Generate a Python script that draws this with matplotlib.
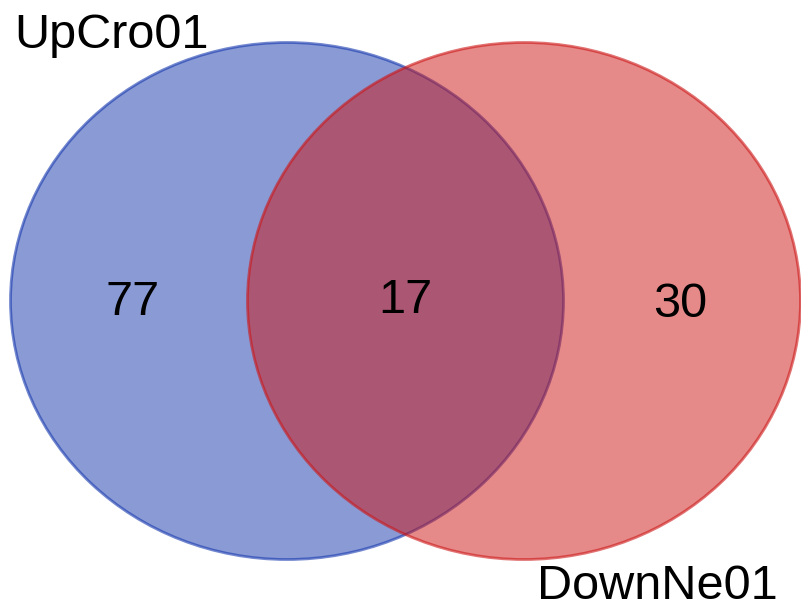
import matplotlib
matplotlib.use("Agg")
from matplotlib import pyplot as plt
from matplotlib.patches import Ellipse

# set labels and region counts (only A, A&B, only B)
setNames = ["UpCro01", "DownNe01"]
regionCounts = [77, 17, 30]

blue = (21 / 255, 55 / 255, 173 / 255)
red = (205 / 255, 21 / 255, 21 / 255)

fig = plt.figure(figsize=(8.01, 6.06), dpi=100)
ax = fig.add_axes([0, 0, 1, 1])
ax.set_xlim(0, 801)
ax.set_ylim(606, 0)
ax.axis("off")

# the two sets as ellipses, in pixel coords
ax.add_patch(Ellipse((287, 301), 553, 517, facecolor=blue, alpha=0.5, edgecolor="none"))
ax.add_patch(Ellipse((287, 301), 553, 517, facecolor="none", edgecolor=blue, alpha=0.6, lw=2))
ax.add_patch(Ellipse((524, 301), 553, 517, facecolor=red, alpha=0.5, edgecolor="none"))
ax.add_patch(Ellipse((524, 301), 553, 517, facecolor="none", edgecolor=red, alpha=0.6, lw=2))

font = "Liberation Sans"
ax.text(133, 315, str(regionCounts[0]), fontsize=35, family=font, ha="center", va="baseline")
ax.text(405, 313, str(regionCounts[1]), fontsize=35, family=font, ha="center", va="baseline")
ax.text(680, 317, str(regionCounts[2]), fontsize=35, family=font, ha="center", va="baseline")

ax.text(14, 48, setNames[0], fontsize=35, family=font, ha="left", va="baseline")
ax.text(537, 599, setNames[1], fontsize=35, family=font, ha="left", va="baseline")

fig.savefig("out.png", dpi=100)
